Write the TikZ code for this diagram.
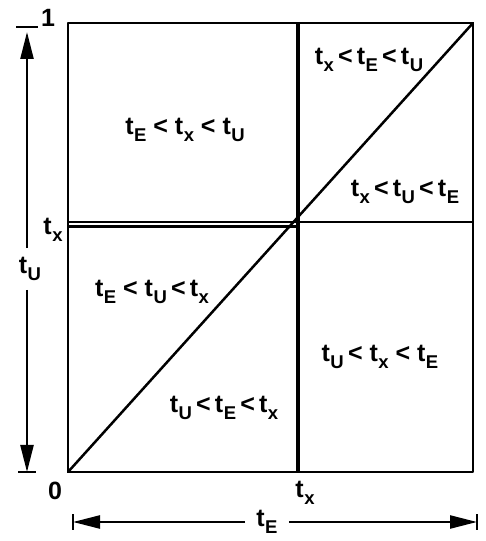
\documentclass[tikz,border=0pt]{standalone}
\usepackage{fontspec}
\setmainfont{Liberation Sans}
\usetikzlibrary{arrows.meta,positioning}
\tikzset{
  frame/.style={line width=2.2pt, line join=round},
  txline/.style={line width=4pt},
  diag/.style={line width=2.5pt, line cap=round},
  axarr/.style={-{Triangle[length=27pt,width=13pt]}, line width=2.4pt},
  tickmark/.style={line width=2.4pt},
  lbl/.style={font=\bfseries\fontsize{25}{25}\selectfont, inner sep=1pt},
}
\newcommand{\tv}[1]{t\kern0.5pt\raisebox{-7pt}{\fontsize{18.5}{18.5}\selectfont #1}}

\begin{document}
\begin{tikzpicture}[x=1pt,y=1pt]
  \useasboundingbox (0,0) rectangle (485,541);
  \coordinate (O) at (68,69);   \coordinate (BR) at (473,69);
  \coordinate (TR) at (473,518); \coordinate (TL) at (68,518);
  \coordinate (xB) at (298,69); \coordinate (xT) at (298,518);
  \coordinate (yL) at (68,319); \coordinate (yR) at (473,319);
  \coordinate (yL2) at (68,314.5); \coordinate (yM2) at (298,314.5);
  \draw[frame] (O) -- (BR) -- (TR) -- (TL) -- cycle;
  \draw[txline] (xB) -- (xT);
  \draw[frame] (yL) -- (yR);
  \draw[frame] (yL2) -- (yM2);
  \draw[diag] (O) -- (TR);
  \node[lbl] (one) at (48,523) {1};
  \node[lbl] (txleft) at (53,311) {\tv{x}};
  \node[lbl] (zero) at (55,50) {0};
  \node[lbl] (txbot) at (305,48) {\tv{x}};
  \node[lbl] (regA) at (185,411) {\tv{E} < \tv{x} < \tv{U}};
  \node[lbl] (regB) at (369,481) {\tv{x}\,<\,\tv{E}\,<\,\tv{U}};
  \node[lbl] (regC) at (405,349) {\tv{x}\,<\,\tv{U}\,<\,\tv{E}};
  \node[lbl] (regD) at (152,249) {\tv{E} < \tv{U}\,<\,\tv{x}};
  \node[lbl] (regE) at (380,184) {\tv{U}\,< \tv{x} < \tv{E}};
  \node[lbl] (regF) at (224,133) {\tv{U}\,<\,\tv{E}\,<\,\tv{x}};
  \coordinate (utick) at (27,514); \coordinate (utop) at (27,509);
  \coordinate (ubot) at (27,69);
  \node[lbl, inner ysep=9pt] (tU) at (30,272) {\tv{U}};
  \draw[axarr] (tU.north -| utop) -- (utop);
  \draw[axarr] (tU.south -| ubot) -- (ubot);
  \draw[tickmark] (utick) ++(-11,0) -- ++(22,0);
  \draw[tickmark] (ubot) ++(-9,0) -- ++(18,0);
  \coordinate (eleft) at (73,19); \coordinate (eright) at (477,19);
  \node[lbl, inner xsep=11pt] (tE) at (267,19) {\tv{E}};
  \draw[axarr] (tE.west |- eleft) -- (eleft);
  \draw[axarr] (tE.east |- eright) -- (eright);
  \draw[tickmark] (eleft) ++(0,-8) -- ++(0,16);
  \draw[tickmark] (eright) ++(0,-8) -- ++(0,16);
\end{tikzpicture}
\end{document}
